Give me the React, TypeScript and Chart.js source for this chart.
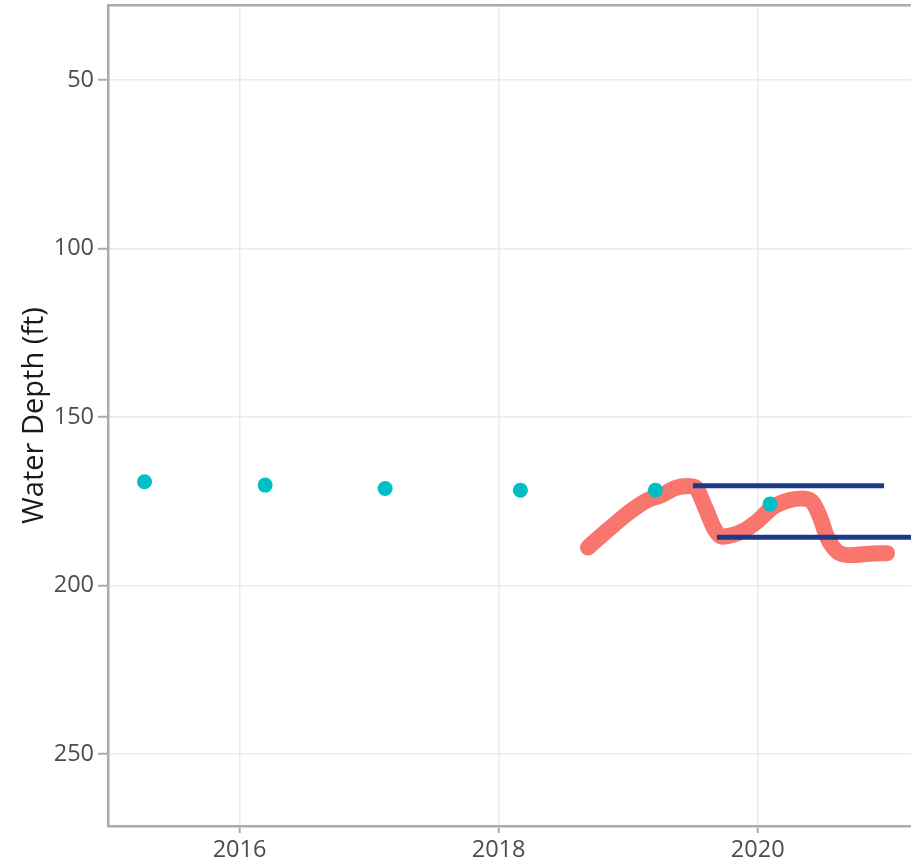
import React, { useEffect, useRef } from "react";
import { Chart, registerables } from "chart.js";

Chart.register(...registerables);

// Axis ticks
const xTickYears = [2016, 2018, 2020];
const yTickDepths = [50, 100, 150, 200, 250];

// Periodic well measurements (teal points)
const wellYears = [2015.267, 2016.198, 2017.124, 2018.168, 2019.21, 2020.095];
const wellDepths = [169.2, 170.2, 171.2, 171.7, 171.7, 175.8];

// Continuous sensor record (red thick line)
const sensorYears = [
  2018.69, 2018.844, 2018.999, 2019.153, 2019.261, 2019.362, 2019.462, 2019.516,
  2019.593, 2019.67, 2019.724, 2019.878, 2019.995, 2020.118, 2020.249, 2020.35,
  2020.427, 2020.481, 2020.535, 2020.612, 2020.712, 2020.89, 2020.998,
];
const sensorDepths = [
  188.7, 183.5, 178.5, 174.6, 173.1, 171.1, 170.5, 170.8,
  176.7, 183.5, 185.5, 184.0, 181.0, 176.7, 174.6, 174.2,
  175.5, 179.7, 185.6, 189.9, 191.0, 190.5, 190.4,
];

// Reference levels (dark blue horizontal segments)
const levelAYears = [2019.5, 2020.975];
const levelADepths = [170.4, 170.4];
const levelBYears = [2019.685, 2021.35];
const levelBDepths = [185.7, 185.7];

const toPoints = (xs: number[], ys: number[]) => xs.map((x, i) => ({ x, y: ys[i] }));

export default function App() {
  const ref = useRef<HTMLCanvasElement | null>(null);

  useEffect(() => {
    if (!ref.current) return;
    Chart.defaults.font.family = "'Open Sans', 'DejaVu Sans', sans-serif";
    const frame = "#ababab";
    const noPad = (s: any) => {
      s.paddingLeft = 0;
      s.paddingRight = 0;
      s.paddingTop = 0;
      s.paddingBottom = 0;
    };
    const chart = new Chart(ref.current, {
      type: "scatter",
      data: {
        datasets: [
          {
            data: toPoints(levelAYears, levelADepths),
            showLine: true,
            borderColor: "#1c3a87",
            borderWidth: 5,
            pointRadius: 0,
            borderCapStyle: "butt",
          },
          {
            data: toPoints(levelBYears, levelBDepths),
            showLine: true,
            borderColor: "#1c3a87",
            borderWidth: 5,
            pointRadius: 0,
            borderCapStyle: "butt",
          },
          {
            data: toPoints(wellYears, wellDepths),
            showLine: false,
            backgroundColor: "#00BFC4",
            borderWidth: 0,
            pointRadius: 7.5,
          },
          {
            data: toPoints(sensorYears, sensorDepths),
            showLine: true,
            borderColor: "#F8766D",
            borderWidth: 16,
            borderCapStyle: "round",
            borderJoinStyle: "round",
            cubicInterpolationMode: "monotone",
            pointRadius: 0,
          },
        ],
      },
      options: {
        animation: false,
        responsive: false,
        devicePixelRatio: 1,
        layout: { autoPadding: false, padding: { top: 5, left: 0, right: 0, bottom: 0 } },
        plugins: { legend: { display: false }, tooltip: { enabled: false } },
        scales: {
          x: {
            type: "linear",
            position: "bottom",
            min: 2014.985,
            max: 2021.183,
            afterBuildTicks: (s: any) => {
              s.ticks = xTickYears.map((v) => ({ value: v }));
            },
            afterFit: (s: any) => {
              s.height = 42;
              noPad(s);
            },
            ticks: {
              color: "#4d4d4d",
              font: { size: 23.5 },
              padding: 3,
              callback: (v: any) => String(v),
            },
            grid: {
              color: "#ebebeb",
              lineWidth: 1.5,
              tickColor: frame,
              tickWidth: 2,
              tickLength: 7,
            },
            border: { display: true, color: frame, width: 2.5 },
          },
          x2: {
            type: "linear",
            position: "top",
            min: 2014.985,
            max: 2021.183,
            ticks: { display: false },
            grid: { display: false, drawTicks: false },
            border: { display: true, color: frame, width: 2.5 },
            afterFit: (s: any) => {
              s.height = 0;
              noPad(s);
            },
          },
          y: {
            type: "linear",
            reverse: true,
            min: 27.74,
            max: 271.36,
            afterBuildTicks: (s: any) => {
              s.ticks = yTickDepths.map((v) => ({ value: v }));
            },
            afterFit: (s: any) => {
              s.width = 108;
              noPad(s);
            },
            ticks: {
              color: "#4d4d4d",
              font: { size: 23.5 },
              padding: 4,
              callback: (v: any) => String(v),
            },
            grid: {
              color: "#ebebeb",
              lineWidth: 1.5,
              tickColor: frame,
              tickWidth: 2,
              tickLength: 10,
            },
            border: { display: true, color: frame, width: 2.5 },
            title: {
              display: true,
              text: "Water Depth (ft)",
              color: "#1a1a1a",
              font: { size: 29 },
              padding: { top: 17, bottom: 0 },
            },
          },
        },
      },
    });
    return () => chart.destroy();
  }, []);

  return (
    <div style={{ position: "fixed", left: 0, top: 0, width: 911, height: 868, background: "#fff" }}>
      <canvas ref={ref} width={911} height={868} style={{ display: "block" }} />
    </div>
  );
}
